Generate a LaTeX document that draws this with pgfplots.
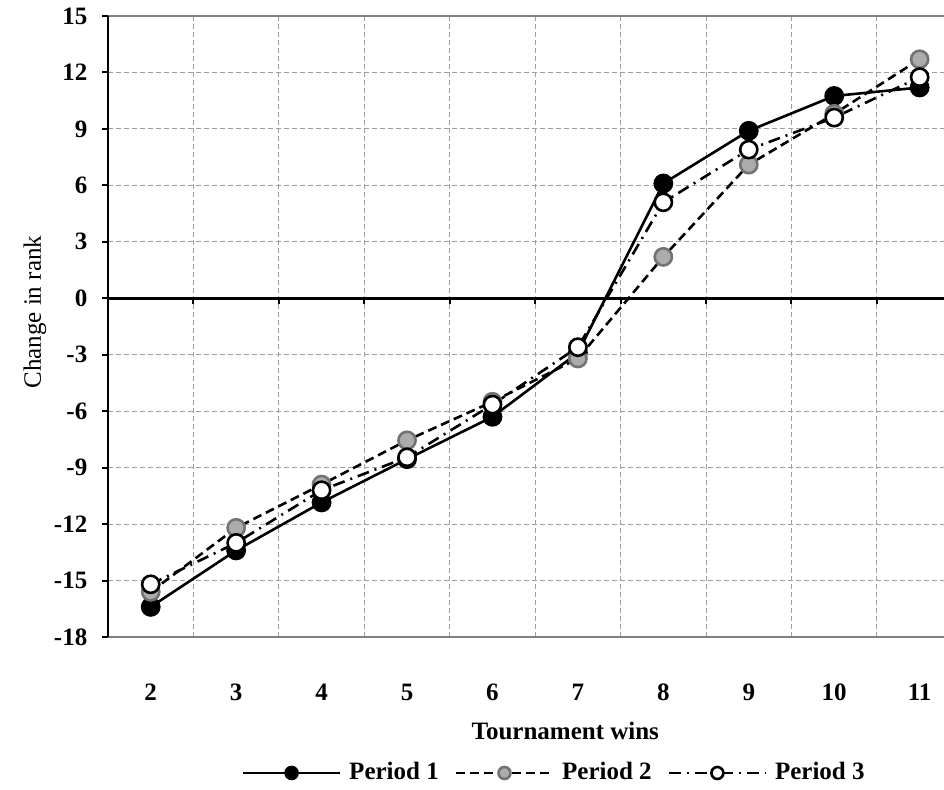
\documentclass[border=0pt]{standalone}
\usepackage{fontspec}
\setmainfont{Liberation Serif}
\usepackage{pgfplots}
\pgfplotsset{compat=1.18}
\usetikzlibrary{calc}

\begin{document}
\fontsize{12.5}{15}\selectfont
\begin{tikzpicture}
  \begin{axis}[
      scale only axis,
      width=418pt, height=310.5pt,
      xmin=1.5, xmax=11.285,
      ymin=-18, ymax=15,
      xtick={2,...,11},
      minor xtick={2.5,3.5,...,10.5},
      ytick={-18,-15,...,15},
      xminorgrids=true, ymajorgrids=true,
      grid style={gray!75, dash pattern=on 2.5pt off 1.5pt, line width=0.5pt},
      minor grid style={gray!75, dash pattern=on 2.5pt off 1.5pt, line width=0.5pt},
      axis line style={draw=none},
      ytick pos=left,
      tick align=outside,
      major tick length=3pt,
      major y tick style={black, line width=1pt},
      major x tick style={draw=none},
      minor x tick style={draw=none},
      /pgf/number format/assume math mode=true,
      tick label style={font=\bfseries},
      yticklabel style={xshift=-3pt},
      xticklabel style={yshift=-16pt},
      xlabel={\bfseries Tournament wins},
      xlabel style={at={(rel axis cs:0.547,0)}, anchor=center, yshift=-47pt},
      ylabel={Change in rank},
      ylabel style={at={(rel axis cs:0,0.523)}, anchor=center, yshift=36.5pt},
      clip=false,
      legend columns=3,
      legend style={at={(0.535,-0.219)}, anchor=center, draw=none,
        font=\bfseries, column sep=6pt,
        /tikz/every odd column/.append style={column sep=2pt}},
      legend image code/.code={
        \draw[mark repeat=2, mark phase=2, #1, mark size=3pt]
          plot coordinates {(0cm,0cm) (0.85cm,0cm) (1.7cm,0cm)};
      },
    ]
    \coordinate (sw) at (rel axis cs:0,0);
    % frame and zero line
    \draw[gray, line width=1.2pt] (rel axis cs:0,1) -- (rel axis cs:1,1);
    \draw[gray, line width=1.2pt] (rel axis cs:0,0) -- (rel axis cs:1,0);
    \draw[black, line width=1.3pt] (rel axis cs:0,0) -- (rel axis cs:0,1);
    \draw[black, line width=1.3pt] (axis cs:1.5,0) -- (axis cs:11.285,0);
    \pgfplotsinvokeforeach{2.5,3.5,4.5,5.5,6.5,7.5,8.5,9.5,10.5}{
      \draw[black, line width=1pt] (axis cs:#1,0) -- ++(0pt,-3pt);
    }

    \addplot[black, line width=1.3pt, mark=*, mark size=4.3pt,
      mark options={solid, fill=black}] coordinates {
      (2,-16.4) (3,-13.4) (4,-10.85) (5,-8.55) (6,-6.3)
      (7,-2.9) (8,6.1) (9,8.9) (10,10.75) (11,11.2)
    };
    \addlegendentry{Period 1}

    \addplot[black, line width=1.3pt, dash pattern=on 4.5pt off 2.5pt,
      mark=*, mark size=4.3pt,
      mark options={solid, fill=gray!65, draw=black!55}] coordinates {
      (2,-15.6) (3,-12.2) (4,-9.9) (5,-7.55) (6,-5.5)
      (7,-3.2) (8,2.2) (9,7.1) (10,9.8) (11,12.7)
    };
    \addlegendentry{Period 2}

    \addplot[black, line width=1.3pt,
      dash pattern=on 6pt off 3pt on 1pt off 3pt,
      mark=*, mark size=4.3pt,
      mark options={solid, fill=white, draw=black}] coordinates {
      (2,-15.2) (3,-13.0) (4,-10.2) (5,-8.45) (6,-5.65)
      (7,-2.6) (8,5.1) (9,7.9) (10,9.6) (11,11.75)
    };
    \addlegendentry{Period 3}
  \end{axis}
  \pgfresetboundingbox
  \useasboundingbox ($(sw)+(-54pt,-76.5pt)$) rectangle ++(472pt,395pt);
\end{tikzpicture}
\end{document}
